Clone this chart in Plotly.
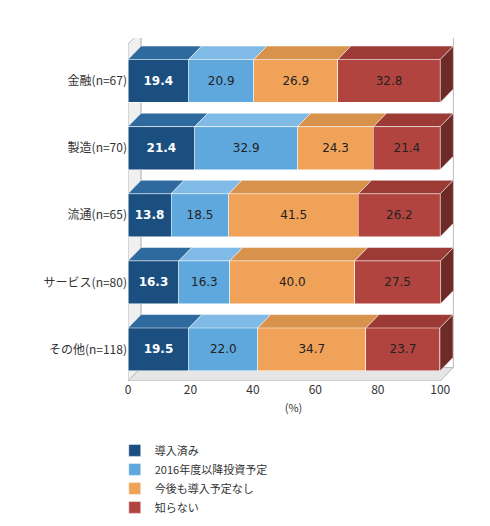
import plotly.graph_objects as go

categories = ["金融(n=67)", "製造(n=70)", "流通(n=65)", "サービス(n=80)", "その他(n=118)"]
series_names = ["導入済み", "2016年度以降投資予定", "今後も導入予定なし", "知らない"]
values = [
    [19.4, 21.4, 13.8, 16.3, 19.5],
    [20.9, 32.9, 18.5, 16.3, 22.0],
    [26.9, 24.3, 41.5, 40.0, 34.7],
    [32.8, 21.4, 26.2, 27.5, 23.7],
]
colors = ["#1b4f80", "#5ea8de", "#f0a259", "#b2443f"]
top_colors = ["#2f6a9e", "#7fbbe6", "#d8924c", "#9c3a36"]
text_colors = ["white", "#222222", "#222222", "#222222"]

ypos = list(range(len(categories)))
bw = 0.64
d, dy = 4.2, 0.2

fig = go.Figure()
for s, name in enumerate(series_names):
    fig.add_trace(go.Bar(
        y=ypos, x=values[s], orientation="h", name=name, width=bw,
        marker=dict(color=colors[s], line=dict(color="white", width=0.5)),
        text=[f"{v:.1f}" for v in values[s]], textposition="inside",
        insidetextanchor="middle",
        textfont=dict(color=text_colors[s], size=12, family="DejaVu Sans"),
        texttemplate="<b>%{text}</b>" if s == 0 else "%{text}",
    ))

shapes = []
# back wall and floor
shapes.append(dict(type="path", layer="below",
                   path=f"M 0,{4+bw/2+0.15} L {d},{4+bw/2+0.15-dy} L {d},{-0.55-dy} L 0,{-0.55} Z",
                   fillcolor="#f0f0f0", line=dict(color="#bbbbbb", width=1)))
shapes.append(dict(type="path", layer="below",
                   path=f"M {d},{-0.55-dy} L {100+d},{-0.55-dy} L {100+d},{4+bw/2+0.15-dy} L {d},{4+bw/2+0.15-dy} Z",
                   fillcolor="white", line=dict(color="#bbbbbb", width=1)))
shapes.append(dict(type="path", layer="below",
                   path=f"M 0,{4+bw/2+0.15} L 100,{4+bw/2+0.15} L {100+d},{4+bw/2+0.15-dy} L {d},{4+bw/2+0.15-dy} Z",
                   fillcolor="#e6e6e6", line=dict(color="#bbbbbb", width=1)))
for i in ypos:
    top = i - bw / 2
    bot = i + bw / 2
    x0 = 0
    for s in range(len(series_names)):
        x1 = x0 + values[s][i]
        shapes.append(dict(type="path",
                           path=f"M {x0},{top} L {x0+d},{top-dy} L {x1+d},{top-dy} L {x1},{top} Z",
                           fillcolor=top_colors[s], line=dict(color="white", width=0.5)))
        x0 = x1
    shapes.append(dict(type="path",
                       path=f"M {x0},{top} L {x0+d},{top-dy} L {x0+d},{bot-dy} L {x0},{bot} Z",
                       fillcolor="#6e2a27", line=dict(color="white", width=0.5)))

fig.update_layout(
    barmode="stack", width=490, height=526,
    margin=dict(l=120, r=39, t=30, b=136),
    plot_bgcolor="white", paper_bgcolor="white",
    font=dict(family="Noto Sans CJK JP, DejaVu Sans", size=12, color="#333333"),
    shapes=shapes,
    xaxis=dict(range=[0, 106], tickvals=[0, 20, 40, 60, 80, 100], showgrid=False,
               zeroline=False, ticks="", automargin=False,
               title=dict(text="(%)", font=dict(size=11), standoff=8)),
    yaxis=dict(range=[4.47, -0.64], tickvals=ypos, ticktext=categories, showgrid=False,
               zeroline=False, ticks="", ticksuffix=" ", automargin=False),
    legend=dict(x=-0.04, y=-0.16, xanchor="left", yanchor="top", traceorder="normal",
                font=dict(size=11), itemwidth=30, tracegroupgap=0),
    showlegend=True,
)
fig.write_html("out.html")
